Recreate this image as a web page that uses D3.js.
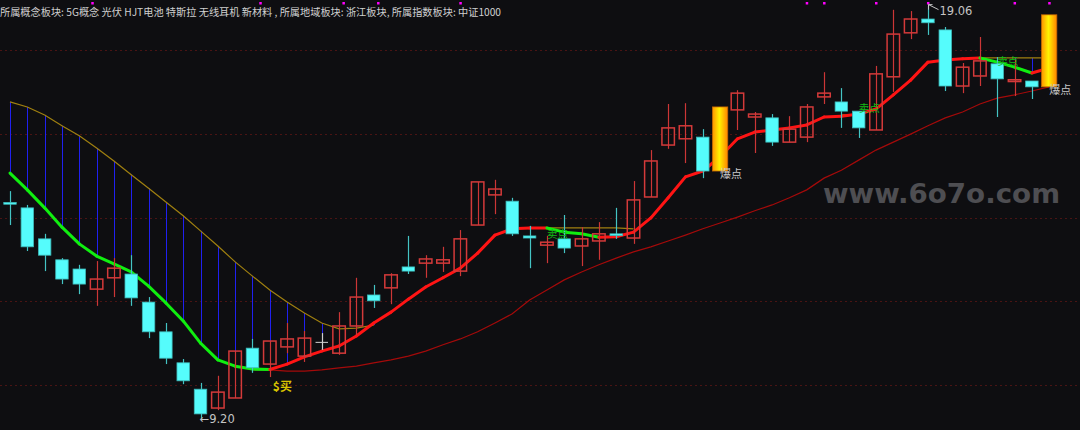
<!DOCTYPE html>
<html><head><meta charset="utf-8">
<script src="https://cdn.jsdelivr.net/npm/d3@7"></script>
<style>html,body{margin:0;padding:0;background:#0e0e11;overflow:hidden}svg{display:block}</style>
</head><body><svg id="c" width="1080" height="430"></svg>
<script>
// ---------- data ----------
const header = "所属概念板块: 5G概念 光伏 HJT电池 特斯拉 无线耳机 新材料 , 所属地域板块: 浙江板块, 所属指数板块: 中证1000";
const gridTicks = [10, 12, 14, 16, 18];
const opens  = [14.36,14.23,13.49,12.99,12.77,12.29,12.56,12.65,11.98,11.27,10.53,9.90,9.45,9.69,10.88,10.50,10.91,10.69,11.03,10.76,11.41,12.15,12.32,12.82,12.91,12.91,12.72,13.82,14.54,14.39,13.56,13.34,13.49,13.32,13.44,13.61,13.51,14.49,15.73,15.88,15.92,null,16.57,16.40,16.38,15.80,15.92,16.88,16.76,16.54,16.09,17.36,18.41,18.74,18.48,17.14,17.38,17.67,17.27,17.26,null];
const highs  = [14.63,14.30,13.61,13.03,12.87,12.96,13.03,13.10,12.10,11.48,10.62,10.05,10.22,10.81,11.10,11.05,11.48,11.29,11.24,11.74,12.56,12.39,12.67,13.56,13.10,13.30,13.70,14.85,14.90,14.47,13.80,13.56,14.06,13.77,13.89,14.23,14.87,15.61,16.71,16.73,16.11,null,17.04,16.52,16.47,16.42,16.71,17.47,17.09,16.54,17.62,18.96,18.93,19.06,18.55,17.69,18.31,17.83,17.76,17.26,null];
const lows   = [13.82,13.20,12.72,12.41,12.17,11.89,12.10,11.89,11.12,10.50,10.02,9.20,9.40,9.69,10.29,10.19,10.76,10.55,10.84,10.72,11.19,11.84,11.93,12.65,12.56,12.70,12.60,13.82,14.08,13.56,12.79,12.91,13.15,12.84,12.99,13.49,13.37,14.49,15.64,15.30,14.94,null,16.09,15.54,15.71,15.80,15.80,16.71,16.14,15.90,16.09,17.00,18.26,18.36,17.02,16.97,17.14,16.40,16.90,16.83,null];
const closes = [14.34,13.30,13.10,12.53,12.41,12.53,12.79,12.08,11.27,10.64,10.10,9.31,9.83,10.81,10.41,11.05,11.10,11.12,11.03,11.41,12.10,12.01,12.63,12.72,13.01,12.99,13.49,14.85,14.68,13.61,13.51,13.41,13.27,13.49,13.61,13.57,14.42,15.35,16.14,16.19,15.11,null,16.97,16.47,15.80,16.11,16.64,16.97,16.54,16.14,17.43,18.38,18.74,18.65,17.14,17.59,17.74,17.31,17.29,17.12,null];
const maFast = [15.06,14.66,14.23,13.77,13.37,13.08,12.89,12.70,12.36,11.96,11.53,11.00,10.60,10.45,10.38,10.37,10.50,10.67,10.81,10.93,11.17,11.48,11.74,12.05,12.34,12.56,12.79,13.15,13.58,13.73,13.75,13.75,13.65,13.61,13.53,13.54,13.65,13.99,14.47,14.97,15.11,15.45,15.88,16.04,16.09,16.14,16.21,16.40,16.42,16.47,16.59,16.93,17.28,17.71,17.76,17.79,17.81,17.71,17.59,17.45,17.57];
const maSlow = [null,null,null,null,null,null,null,null,null,null,null,null,null,null,10.36,10.36,10.33,10.33,10.36,10.41,10.45,10.53,10.60,10.69,10.81,10.96,11.10,11.27,11.48,11.70,12.03,12.27,12.51,12.70,12.87,13.03,13.18,13.30,13.44,13.58,13.73,13.87,14.01,14.16,14.30,14.47,14.66,14.94,15.13,15.37,15.61,15.80,15.99,16.19,16.38,16.52,16.71,16.85,16.93,17.02,17.12];
const upper  = [16.76,16.64,16.45,16.19,15.95,15.66,15.35,15.02,14.70,14.37,14.04,13.68,13.32,12.94,12.60,12.27,11.98,11.72,11.48,11.34,11.36,11.43,null,null,null,null,null,null,null,null,13.75,13.75,13.75,13.75,13.75,13.75,13.73,null,null,null,null,null,null,null,null,null,null,null,16.45,16.45,null,null,null,null,null,null,17.81,17.81,17.81,17.81,17.81];
const burstIdx = [41, 60];
const burstTop = [16.64, 18.84];
const burstBottom = [15.11, 17.12];
const burstLabel = "爆点";
const buyIdx = [15];
const buyLabel = "$买";
const sellIdx = [31, 49, 57];
const sellPrice = [13.51, 16.52, 17.64];
const sellLabel = "卖点";
const lowIdx = 11, lowText = "←9.20";
const highIdx = 53, highText = "19.06";
const markIdx = [4.75, 14.45, 19.25, 21.25, 26, 46, 47, 50, 53, 58, 60];
const watermark = "www.6o7o.com";

// ---------- scales ----------
const W = 1080, H = 430;
const svg = d3.select("#c");
const x = d3.scaleLinear().domain([0, 60]).range([10, 1049.2]);
const y = d3.scaleLinear().domain([10, 18]).range([385, 50]);
const step = x(1) - x(0);
const bw = step * 0.72;

svg.append("rect").attr("width", W).attr("height", H).attr("fill", "#0e0e11");

const defs = svg.append("defs");
const g1 = defs.append("linearGradient").attr("id", "burst").attr("x1", "0%").attr("x2", "100%").attr("y1", "0%").attr("y2", "0%");
g1.append("stop").attr("offset", "0%").attr("stop-color", "#ff9400");
g1.append("stop").attr("offset", "45%").attr("stop-color", "#fff200");
g1.append("stop").attr("offset", "100%").attr("stop-color", "#ff8400");

// grid
svg.append("g").selectAll("line").data(gridTicks).join("line")
  .attr("x1", 0).attr("x2", W).attr("y1", d => Math.round(y(d)) + 0.5).attr("y2", d => Math.round(y(d)) + 0.5)
  .attr("stroke", "#4a1414").attr("stroke-dasharray", "2,3").attr("stroke-width", 1);

// watermark
svg.append("text").attr("x", 823).attr("y", 203).text(watermark)
  .attr("font-family", "DejaVu Sans").attr("font-weight", "bold").attr("font-size", 26)
  .attr("textLength", 237).attr("lengthAdjust", "spacingAndGlyphs").attr("fill", "#4e4e52");

// header
svg.append("text").attr("x", 0).attr("y", 16).text(header)
  .attr("font-family", "Noto Sans CJK SC").attr("font-size", 10.2).attr("fill", "#d0d0d0");

// magenta markers
svg.append("g").selectAll("rect").data(markIdx).join("rect")
  .attr("x", d => x(d) - 1).attr("y", 2).attr("width", 2.5).attr("height", 2.5).attr("fill", "#ff00ff");

// blue verticals
const idx = d3.range(maFast.length);
svg.append("g").selectAll("line").data(idx.filter(i => upper[i] != null)).join("line")
  .attr("x1", i => Math.round(x(i)) + 0.5).attr("x2", i => Math.round(x(i)) + 0.5)
  .attr("y1", i => y(upper[i])).attr("y2", i => y(maFast[i]))
  .attr("stroke", "#2020f0").attr("stroke-width", 1);

// upper (yellow) line
const lineDef = d3.line().defined(d => d[1] != null).x(d => x(d[0])).y(d => y(d[1]));
svg.append("path").attr("d", lineDef(upper.map((v, i) => [i, v])))
  .attr("fill", "none").attr("stroke", "#a08010").attr("stroke-width", 1.2);

// slow MA
svg.append("path").attr("d", lineDef(maSlow.map((v, i) => [i, v])))
  .attr("fill", "none").attr("stroke", "#a40a0a").attr("stroke-width", 1.2);

// fast MA, coloured by direction
svg.append("g").selectAll("path").data(d3.range(maFast.length - 1)).join("path")
  .attr("d", i => lineDef([[i, maFast[i]], [i + 1, maFast[i + 1]]]))
  .attr("fill", "none").attr("stroke-linecap", "round").attr("stroke-width", 3)
  .attr("stroke", i => maFast[i + 1] >= maFast[i] ? "#ff1414" : "#10ee10");

// candles
const cand = idx.filter(i => opens[i] != null);
const cg = svg.append("g").selectAll("g").data(cand).join("g");
const col = i => closes[i] > opens[i] ? "up" : (closes[i] < opens[i] ? "down" : "flat");
cg.append("line")
  .attr("x1", i => Math.round(x(i)) + 0.5).attr("x2", i => Math.round(x(i)) + 0.5)
  .attr("y1", i => y(highs[i])).attr("y2", i => y(lows[i]))
  .attr("stroke", i => ({up: "#cc3636", down: "#44c4c4", flat: "#d0d0d0"})[col(i)]).attr("stroke-width", 1.2);
cg.append("rect")
  .attr("x", i => x(i) - bw / 2).attr("width", bw)
  .attr("y", i => y(Math.max(opens[i], closes[i])))
  .attr("height", i => Math.max(col(i) === "flat" ? 1 : 1.8, y(Math.min(opens[i], closes[i])) - y(Math.max(opens[i], closes[i]))))
  .attr("fill", i => ({up: "none", down: "#55fcfc", flat: "#d0d0d0"})[col(i)])
  .attr("stroke", i => ({up: "#d43a3a", down: "#3cb8b8", flat: "none"})[col(i)])
  .attr("stroke-width", i => col(i) === "up" ? 1.5 : 0.8);

// burst bars
svg.append("g").selectAll("rect").data(burstIdx).join("rect")
  .attr("x", (d) => x(d) - step * 0.44).attr("width", step * 0.88)
  .attr("y", (d, k) => y(burstTop[k])).attr("height", (d, k) => y(burstBottom[k]) - y(burstTop[k]))
  .attr("fill", "url(#burst)").attr("stroke", "#c86a00").attr("stroke-width", 0.8);
svg.append("g").selectAll("text").data(burstIdx).join("text")
  .attr("x", d => x(d)).attr("y", (d, k) => y(burstBottom[k]) + 7).text(burstLabel)
  .attr("font-family", "Noto Sans CJK SC").attr("font-size", 11).attr("fill", "#c8c8c8");

// buy label
svg.append("g").selectAll("text").data(buyIdx).join("text")
  .attr("x", d => x(d) + 3).attr("y", d => y(lows[d]) + 14).text(buyLabel)
  .attr("font-family", "Noto Sans CJK SC").attr("font-weight", "bold").attr("font-size", 12).attr("fill", "#d8c400");

// sell labels
svg.append("g").selectAll("text").data(sellIdx).join("text")
  .attr("x", d => x(d)).attr("y", (d, k) => y(sellPrice[k])).text(sellLabel)
  .attr("font-family", "Noto Sans CJK SC").attr("font-size", 10.5).attr("fill", "#14b814");

// low marker
svg.append("text").attr("x", x(lowIdx) - 1).attr("y", y(lows[lowIdx]) + 4).text(lowText)
  .attr("font-family", "DejaVu Sans").attr("font-size", 11.5).attr("fill", "#c4c4c4");

// high marker
const hx = Math.round(x(highIdx)) + 0.5, hy = y(highs[highIdx]) - 1;
svg.append("path").attr("d", `M${hx},${hy} L${hx + 10},${hy + 5} M${hx},${hy} L${hx},${hy + 5} M${hx},${hy} L${hx + 4},${hy}`)
  .attr("stroke", "#c4c4c4").attr("fill", "none").attr("stroke-width", 1);
svg.append("text").attr("x", hx + 11).attr("y", hy + 10).text(highText)
  .attr("font-family", "DejaVu Sans").attr("font-size", 11.5).attr("fill", "#c4c4c4");
</script></body></html>
